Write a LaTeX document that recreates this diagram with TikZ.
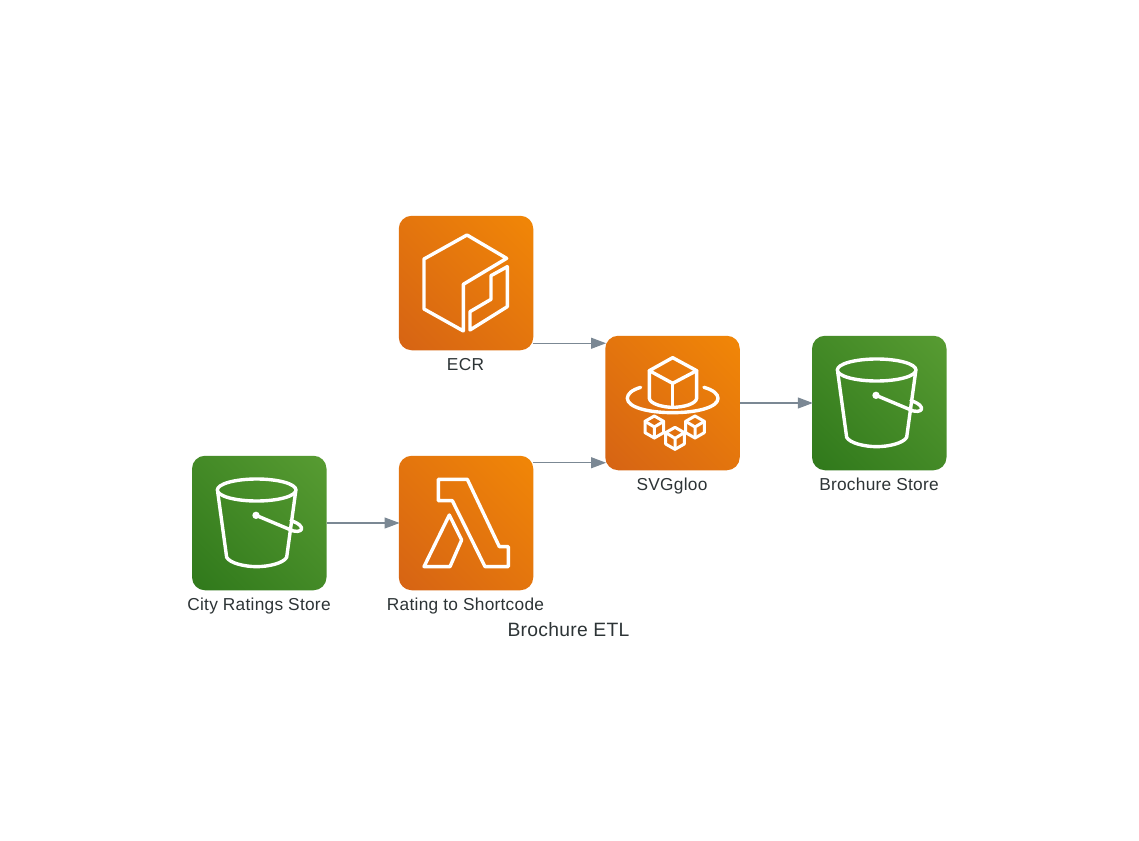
\documentclass[tikz,border=0pt]{standalone}
\usepackage{fontspec}
\setmainfont[LetterSpace=1.5]{Liberation Sans}
\usetikzlibrary{arrows.meta}
\definecolor{orgA}{HTML}{F78E04}
\definecolor{orgB}{HTML}{D05C17}
\definecolor{grnA}{HTML}{60A337}
\definecolor{grnB}{HTML}{277116}
\definecolor{lab}{HTML}{2D3436}
\definecolor{edgec}{HTML}{7B8894}
\pgfdeclareverticalshading{orgshade}{100bp}{color(0bp)=(orgB); color(100bp)=(orgA)}
\pgfdeclareverticalshading{grnshade}{100bp}{color(0bp)=(grnB); color(100bp)=(grnA)}
\tikzset{
  tile/.style={minimum size=134.5pt,inner sep=0pt,outer sep=0pt,rounded corners=13pt},
  orgtile/.style={tile,shade,shading=orgshade,shading angle=-45},
  grntile/.style={tile,shade,shading=grnshade,shading angle=-45},
  lbl/.style={text=lab,font=\fontsize{17.3}{19}\selectfont,inner sep=0pt,anchor=base},
  ttl/.style={text=lab,font=\fontsize{19.3}{21}\selectfont,inner sep=0pt,anchor=base},
  conn/.style={draw=edgec,line width=1.1pt,shorten >=-0.8pt,-{Triangle[length=15pt,width=11pt,fill=edgec]}},
  ico/.style={draw=white,line width=3.4pt,line join=round,line cap=round},
  ico2/.style={draw=white,line width=3pt,line join=round,line cap=round},
  zoomed/.style={shift={(#1)},x=0.3333pt,y=-0.3333pt}
}
\newcommand{\bucketicon}[1]{%
 \begin{scope}[zoomed={#1}]
  \draw[ico] (215,120) ellipse [x radius=118,y radius=33];
  \draw[ico] (98,125) -- (125,322) .. controls (135,340) and (180,350) .. (215,350) .. controls (250,350) and (295,340) .. (305,322) -- (332,125);
  \fill[white] (213,196) circle [radius=11];
  \draw[ico] (213,196) -- (325,243) .. controls (345,247) and (352,240) .. (349,232) .. controls (345,222) and (330,216) .. (318,212);
 \end{scope}}
\newcommand{\smallcube}[2]{%
  \draw[ico2] (#1,#2-33) -- (#1+28,#2-17) -- (#1+28,#2+17) -- (#1,#2+33) -- (#1-28,#2+17) -- (#1-28,#2-17) -- cycle;
  \draw[ico2] (#1-28,#2-17) -- (#1,#2) -- (#1+28,#2-17) (#1,#2) -- (#1,#2+33);}
\begin{document}
\begin{tikzpicture}[x=1pt,y=-1pt]
\useasboundingbox (0,0) rectangle (1139,840);
\fill[white] (0,0) rectangle (1139,840);
\node[orgtile] (ecr) at (466,283) {};
\node[orgtile] (svg) at (672.5,403) {};
\node[grntile] (bro) at (879.25,403) {};
\node[orgtile] (lam) at (466,523) {};
\node[grntile] (cit) at (259.25,523) {};
\node[lbl] (ecrl) at (465.5,370) {ECR};
\node[lbl] (svgl) at (672,490) {SVGgloo};
\node[lbl] (brol) at (879,490) {Brochure Store};
\node[lbl] (citl) at (259,610) {City Ratings Store};
\node[lbl] (laml) at (465.5,610) {Rating to Shortcode};
\node[ttl] (title) at (568.5,636) {Brochure ETL};
% ECR icon
\begin{scope}[zoomed={390,205}]
 \draw[ico] (231,90) -- (102,162) -- (102,312) -- (220,378) -- (220,238) -- (350,160) -- cycle;
 \draw[ico] (240,375) -- (240,320) -- (303,283) -- (303,212) -- (352,185) -- (352,305) -- cycle;
\end{scope}
% SVGgloo icon
\begin{scope}[zoomed={600,330}]
 \draw[ico] (218,83) -- (148,122) -- (218,160) -- (290,122) -- cycle;
 \draw[ico] (148,122) -- (148,205) .. controls (150,222) and (190,232) .. (218,232) .. controls (250,232) and (288,222) .. (290,205) -- (290,122);
 \draw[ico] (218,160) -- (218,230);
 \draw[ico] (122,172) .. controls (95,180) and (82,192) .. (82,205) .. controls (82,232) and (145,248) .. (218,248) .. controls (291,248) and (354,232) .. (354,205) .. controls (354,192) and (340,180) .. (312,172);
 \smallcube{163}{291}
 \smallcube{225}{325}
 \smallcube{285}{291}
\end{scope}
\bucketicon{805,330}
\bucketicon{185,450}
% Lambda icon
\begin{scope}[zoomed={390,450}]
 \draw[ico] (145,88) -- (232,88) -- (328,290) -- (355,290) -- (355,350) -- (285,350) -- (187,152) -- (145,152) -- cycle;
 \draw[ico] (178,195) -- (102,350) -- (180,350) -- (215,270) -- cycle;
\end{scope}
\path[conn] (cit.east) -- (lam.west);
\path[conn] (bro.west -| svg.east) -- (bro.west);
\path[conn] ([yshift=7pt]ecr.south east) -- ([yshift=7pt]ecr.south east -| svg.west);
\path[conn] ([yshift=-7pt]lam.north east) -- ([yshift=-7pt]lam.north east -| svg.west);
\end{tikzpicture}
\end{document}
